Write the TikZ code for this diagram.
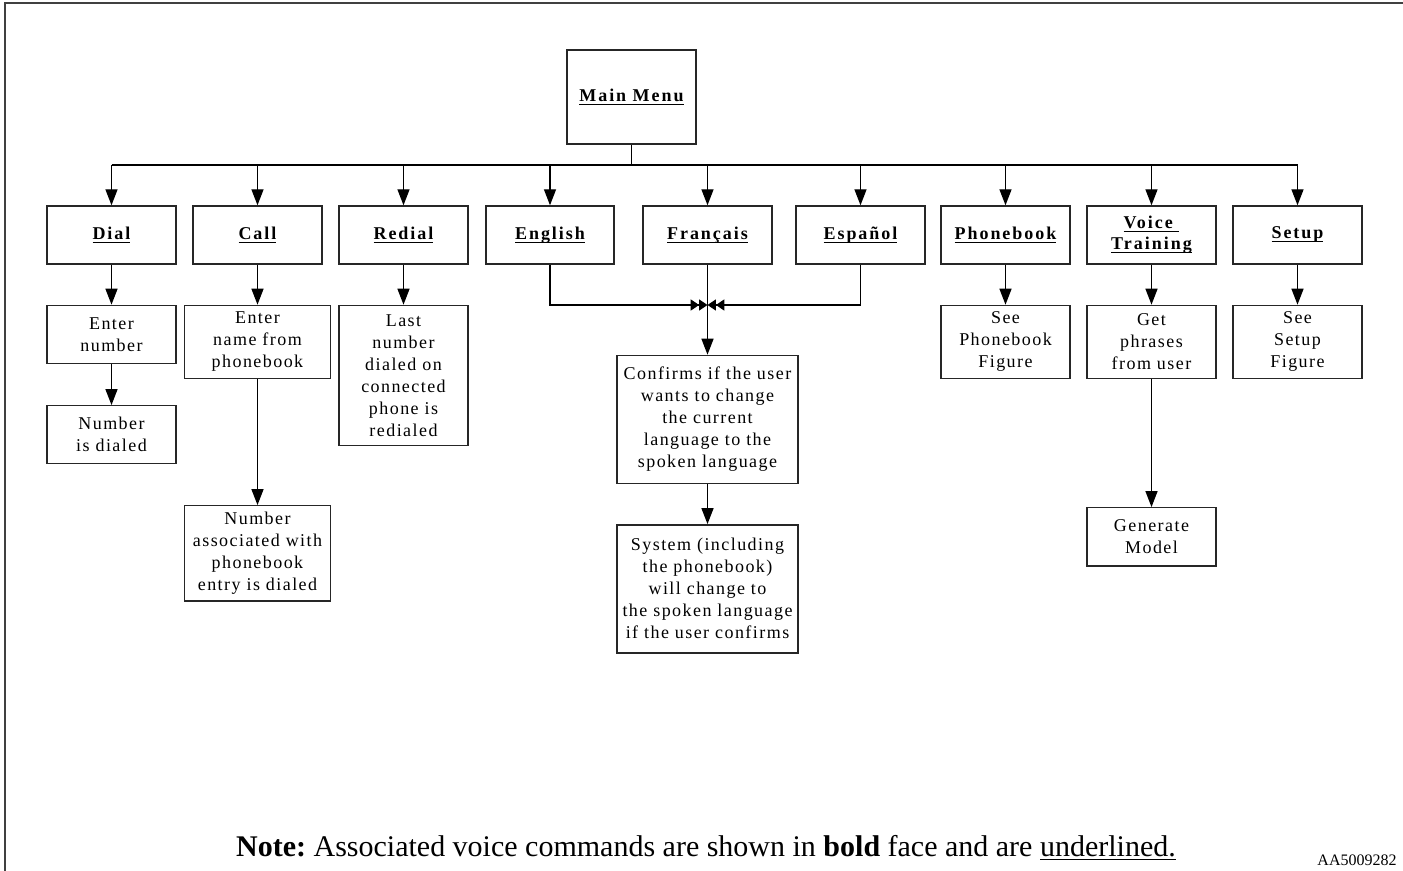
\documentclass[tikz,border=0pt]{standalone}
\usepackage{fontspec}
\setmainfont{Liberation Serif}
\newfontfamily\boxfont[LetterSpace=8]{Liberation Serif}
\newfontfamily\cmdfont[LetterSpace=11]{Liberation Serif}
\usetikzlibrary{arrows.meta,positioning}
\tikzstyle{cmd} = [rectangle, draw=black!85, line width=0.7pt, minimum width=64.5pt,
    minimum height=29pt, align=center, inner sep=2pt,
    font=\cmdfont\fontsize{9}{10.5}\selectfont\bfseries]
\tikzstyle{action} = [rectangle, draw=black!85, line width=0.7pt, minimum width=64.5pt,
    align=center, inner sep=2pt, font=\boxfont\fontsize{9}{11}\selectfont]
\tikzstyle{arrow} = [line width=0.7pt, -{Triangle[width=6pt,length=8pt]}]
\tikzstyle{merge_arrow} = [line width=0.7pt,
    -{Triangle[width=5.5pt,length=4.2pt]Triangle[width=5.5pt,length=4.2pt]}]
\newcommand{\voicecmd}[1]{\underline{\raisebox{0pt}[\height][0pt]{#1}}}

\begin{document}
\begin{tikzpicture}[x=0.5pt,y=-0.5pt]
\useasboundingbox (0,0) rectangle (1403,871);

% ── Frame ────
\draw[line width=1pt, black!75] (5,871) -- (5,3) -- (1403,3);

% ── Main menu ────
\node[cmd, minimum height=47pt] (main) at (631.5,97) {\voicecmd{Main Menu}};
\coordinate (bus) at (631.5,165);

% ── Voice commands ────
\node[cmd] (dial) at (111.5,235) {\voicecmd{Dial}};
\node[cmd] (call) at (257.5,235) {\voicecmd{Call}};
\node[cmd] (redial) at (403.5,235) {\voicecmd{Redial}};
\node[cmd, minimum width=64pt] (english) at (550,235) {\voicecmd{English}};
\node[cmd] (francais) at (707.5,235) {\voicecmd{Français}};
\node[cmd] (espanol) at (860.5,235) {\voicecmd{Español}};
\node[cmd] (phonebook) at (1005.5,235) {\voicecmd{Phonebook}};
\node[cmd] (voice) at (1151.5,235) {\voicecmd{Voice }\\\voicecmd{Training}};
\node[cmd] (setup) at (1297.5,235) {\voicecmd{Setup}};

% ── Actions ────
\node[action, below=20pt of dial, minimum height=29pt] (enternum) {Enter\\number};
\node[action, below=20.5pt of enternum, minimum height=29pt] (numdialed) {Number\\is dialed};
\node[action, below=20pt of call, minimum width=73pt, minimum height=36.5pt] (entername) {Enter\\name from\\phonebook};
\node[action, below=63pt of entername, minimum width=73pt, minimum height=47.5pt] (assoc) {Number\\associated with\\phonebook\\entry is dialed};
\node[action, below=20pt of redial, minimum height=70pt] (lastnum) {Last\\number\\dialed on\\connected\\phone is\\redialed};
\node[action, below=45pt of francais, minimum width=90.5pt, minimum height=64pt] (confirm) {Confirms if the user\\wants to change\\the current\\language to the\\spoken language};
\node[action, below=20pt of confirm, minimum width=90.5pt, minimum height=64pt] (system) {System (including\\the phonebook)\\will change to\\the spoken language\\if the user confirms};
\node[action, below=20pt of phonebook, minimum height=36.5pt] (seepb) {See\\Phonebook\\Figure};
\node[action, below=20pt of voice, minimum height=36.5pt] (phrases) {Get\\phrases\\from user};
\node[action, below=64pt of phrases, minimum height=29pt] (genmodel) {Generate\\Model};
\node[action, below=20pt of setup, minimum height=36.5pt] (seesetup) {See\\Setup\\Figure};
\coordinate (merge) at (707.5,305);

% ── Bus ────
\draw[line width=0.7pt] (main.south) -- (main.south |- bus);
\draw[line width=0.7pt] (dial.north |- bus) -- (setup.north |- bus);
\draw[arrow] (dial.north |- bus) -- (dial.north);
\draw[arrow] (call.north |- bus) -- (call.north);
\draw[arrow] (redial.north |- bus) -- (redial.north);
\draw[arrow] (english.north |- bus) -- (english.north);
\draw[arrow] (francais.north |- bus) -- (francais.north);
\draw[arrow] (espanol.north |- bus) -- (espanol.north);
\draw[arrow] (phonebook.north |- bus) -- (phonebook.north);
\draw[arrow] (voice.north |- bus) -- (voice.north);
\draw[arrow] (setup.north |- bus) -- (setup.north);

% ── Arrows ────
\draw[arrow] (dial) -- (enternum);
\draw[arrow] (enternum) -- (numdialed);
\draw[arrow] (call) -- (entername);
\draw[arrow] (entername) -- (assoc);
\draw[arrow] (redial) -- (lastnum);
\draw[merge_arrow] (english) |- (merge);
\draw[merge_arrow] (espanol) |- (merge);
\draw[arrow] (francais) -- (confirm);
\draw[arrow] (confirm) -- (system);
\draw[arrow] (phonebook) -- (seepb);
\draw[arrow] (voice) -- (phrases);
\draw[arrow] (phrases) -- (genmodel);
\draw[arrow] (setup) -- (seesetup);

% ── Note ────
\node[font=\fontsize{15}{18}\selectfont] (note) at (706,848) {\frenchspacing\textbf{Note:} Associated voice commands are shown in \textbf{bold} face and are \underline{underlined.}};
\node[font=\fontsize{8}{9}\selectfont] (docid) at (1357,860) {AA5009282};

\end{tikzpicture}
\end{document}
